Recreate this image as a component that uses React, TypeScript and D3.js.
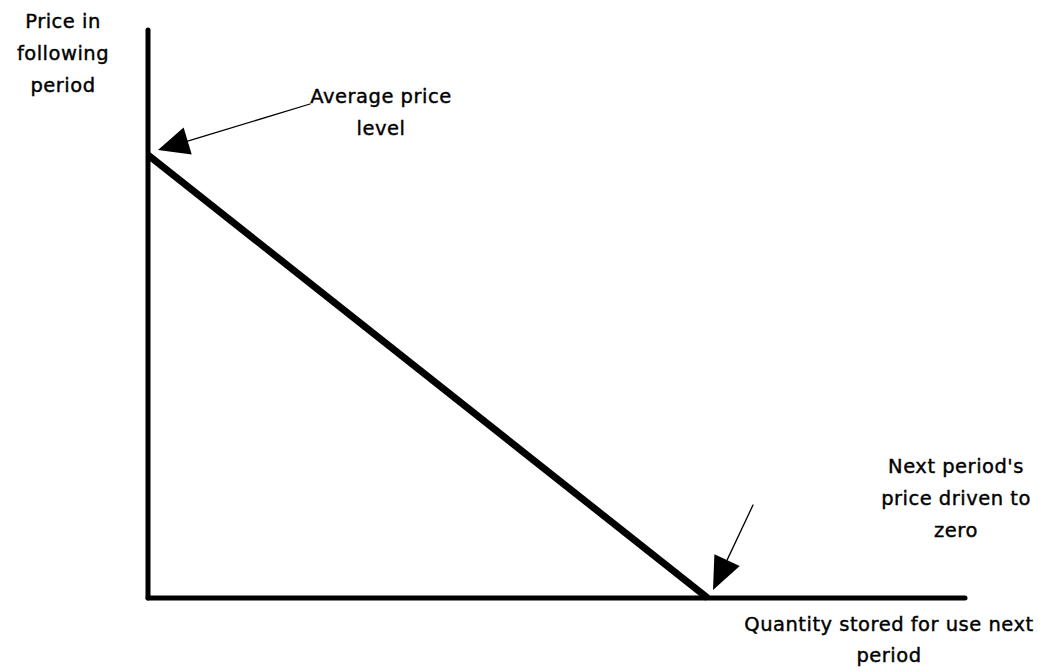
import React from "react";
import * as d3 from "d3";

// Data: the price-quantity relation (arbitrary units)
const quantity = [0, 68.5];
const price = [78, 0];
const xDomain = [0, 100];
const yDomain = [0, 100];

const yTitle = ["Price in", "following", "period"];
const xTitle = ["Quantity stored for use next", "period"];
const noteTop = ["Average price", "level"];
const noteBottom = ["Next period's", "price driven to", "zero"];

const W = 1051;
const H = 671;

function arrow(x1: number, y1: number, x2: number, y2: number, len: number, half: number) {
  const dx = x2 - x1, dy = y2 - y1;
  const L = Math.hypot(dx, dy);
  const ux = dx / L, uy = dy / L;
  const bx = x2 - ux * len, by = y2 - uy * len;
  const px = -uy, py = ux;
  return {
    line: `M${x1},${y1}L${bx},${by}`,
    head: `M${x2},${y2}L${bx + px * half},${by + py * half}L${bx - px * half},${by - py * half}Z`,
  };
}

export default function App() {
  const x = d3.scaleLinear().domain(xDomain).range([148, 965]);
  const y = d3.scaleLinear().domain(yDomain).range([598, 30]);
  const pts = quantity.map((q, i) => [x(q), y(price[i])] as [number, number]);
  const line = d3.line()(pts) || "";

  const a1 = arrow(310, 104, 158, 150, 31, 14);
  const a2 = arrow(753, 505, 713, 590, 33, 14);

  const font = "'DejaVu Sans', sans-serif";
  const fs = 19.5;

  return (
    <svg width={W} height={H} style={{ position: "absolute", left: 0, top: 0, background: "#fff" }}>
      <g fill="none" stroke="#000" strokeLinecap="round">
        <line x1={x(0)} y1={y(100)} x2={x(0)} y2={y(0)} strokeWidth={5} />
        <line x1={x(0)} y1={y(0)} x2={x(100)} y2={y(0)} strokeWidth={5} />
        <path d={line} strokeWidth={7} strokeLinecap="butt" />
        <path d={a1.line} strokeWidth={1.3} />
        <path d={a2.line} strokeWidth={1.3} />
      </g>
      <path d={a1.head} fill="#000" />
      <path d={a2.head} fill="#000" />
      <g fontFamily={font} fontSize={fs} fill="#000" stroke="#000" strokeWidth={0.4} letterSpacing={0.5} textAnchor="middle">
        {yTitle.map((t, i) => (
          <text key={t} x={63} y={28 + i * 32}>{t}</text>
        ))}
        {xTitle.map((t, i) => (
          <text key={t} x={889} y={631 + i * 31}>{t}</text>
        ))}
        {noteTop.map((t, i) => (
          <text key={t} x={381} y={103 + i * 32}>{t}</text>
        ))}
        {noteBottom.map((t, i) => (
          <text key={t} x={956} y={473 + i * 32}>{t}</text>
        ))}
      </g>
    </svg>
  );
}
